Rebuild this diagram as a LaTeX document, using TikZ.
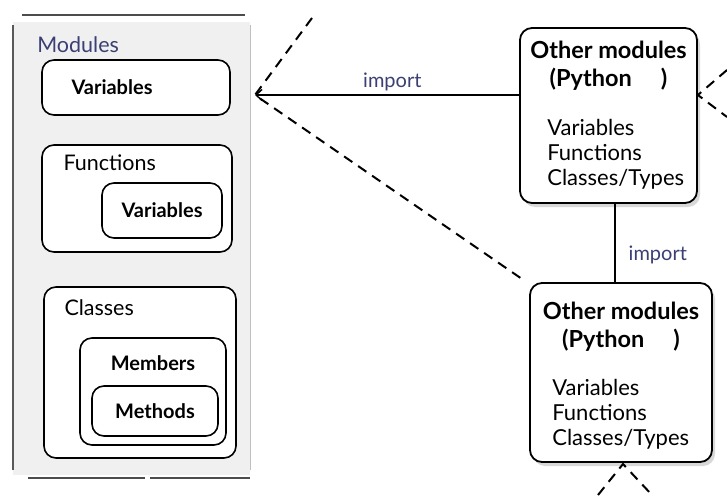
\documentclass[tikz,border=0pt]{standalone}
\usepackage{fontspec}
\setmainfont{Lato}
\usetikzlibrary{positioning, arrows.meta, shadows}

\definecolor{inkblue}{HTML}{3B3F73}
\definecolor{panelgray}{HTML}{F0F0F0}

\begin{document}
\begin{tikzpicture}[x=1pt, y=-1pt, >={Straight Barb[length=6pt, width=11pt]}, semithick,
    box/.style={draw, line width=1.6pt, rounded corners=12pt, fill=white, inner sep=0pt},
    modbox/.style={box, line width=1.8pt, drop shadow={shadow xshift=3pt, shadow yshift=-4pt, fill=gray!60}},
    lbl/.style={font=\bfseries\fontsize{20}{22}\selectfont, inner sep=0pt},
    head/.style={font=\fontsize{21.5}{24}\selectfont, inner sep=0pt},
    title/.style={font=\bfseries\fontsize{23.5}{28}\selectfont, align=center, inner sep=0pt},
    items/.style={font=\fontsize{22}{25}\selectfont, align=left, inner sep=0pt},
    link/.style={line width=1.4pt},
    tag/.style={font=\fontsize{20}{22}\selectfont, text=inkblue, inner sep=3pt},
    hint/.style={dash pattern=on 10pt off 7pt, line width=2pt}]
  \useasboundingbox (0,0) rectangle (727,495);

  % module panel
  \fill[panelgray] (13,22) rectangle (250,475);
  \draw[line width=2pt, gray!60!black] (22,15) -- (245,15);
  \draw[line width=2.5pt, gray!70!black] (13,25) -- (13,470);
  \draw[line width=1pt, gray!50] (250,25) -- (250,470);
  \draw[line width=2pt, gray!60!black] (28,478) -- (145,478) (150,478) -- (250,478);
  \node[head, text=inkblue, anchor=west] (modules) at (37,45) {Modules};

  \node[box, minimum width=188pt, minimum height=55pt] (vars) at (136,87.5) {};
  \node[lbl, right=30pt of vars.west] (varstext) {Variables};

  \node[box, minimum width=190pt, minimum height=107pt] (fun) at (137,198.5) {};
  \node[head, below right=10pt and 22pt of fun.north west] (funtext) {Functions};
  \node[box, minimum width=120pt, minimum height=55pt] (funvars) at (162,210.5) {};
  \node[lbl] at (funvars) {Variables};

  \node[box, minimum width=192pt, minimum height=171pt] (cls) at (140,372.5) {};
  \node[head, below right=13pt and 21pt of cls.north west] (clstext) {Classes};
  \node[box, minimum width=146pt, minimum height=107pt] (mem) at (153,391.5) {};
  \node[lbl, below=18pt of mem.north] (memtext) {Members};
  \node[box, minimum width=126pt, minimum height=50pt] (meth) at (155,411) {};
  \node[lbl] at (meth) {Methods};

  % other modules
  \node[modbox, minimum width=177pt, minimum height=175pt] (top) at (608.5,115.5) {};
  \node[title, below=14pt of top.north] (toptitle) {Other modules\\(Python\quad\ )};
  \node[items, anchor=north west] (topitems) at (547,119) {Variables\\Functions\\Classes/Types};

  \node[modbox, minimum width=182pt, minimum height=179pt] (bot) at (621,372.5) {};
  \node[title, below=20pt of bot.north] (bottitle) {Other modules\\(Python\quad\ )};
  \node[items, anchor=north west] (botitems) at (552,379) {Variables\\Functions\\Classes/Types};

  \coordinate (tip) at (255,95);
  \coordinate (drop) at (615,0);
  \coordinate (tipup) at (312,18);
  \coordinate (tipdown) at (522,279);
  \coordinate (eastup) at (727,70);
  \coordinate (eastdown) at (727,117);
  \coordinate (botfork) at (623,464);
  \coordinate (botleft) at (598,495);
  \coordinate (botright) at (652,495);

  \draw[link, ->] (top.west |- tip) -- node[tag, above, pos=0.48] {import} (tip);
  \draw[link] (top.south -| drop) -- node[tag, right=10pt, pos=0.65] {import} (bot.north -| drop);

  \draw[hint] (tipup) -- (tip) -- (tipdown);
  \draw[hint] (eastup) -- (top.east |- tip) -- (eastdown);
  \draw[hint] (botleft) -- (botfork) -- (botright);
\end{tikzpicture}
\end{document}
